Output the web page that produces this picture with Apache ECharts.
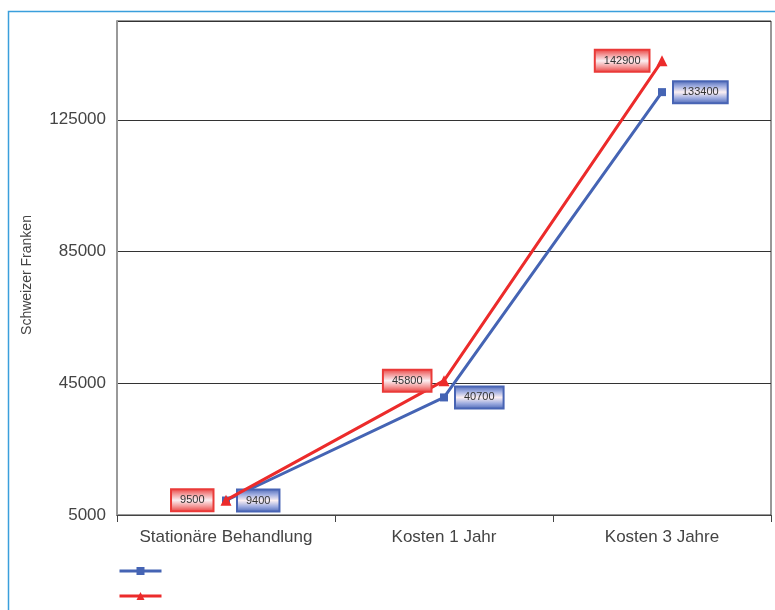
<!DOCTYPE html>
<html>
<head>
<meta charset="utf-8">
<script src="https://cdn.jsdelivr.net/npm/echarts@6/dist/echarts.min.js"></script>
<style>
  html, body { margin: 0; padding: 0; background: #fff; }
  #main { width: 775px; height: 610px; }
</style>
</head>
<body>
<div id="main"></div>
<script>
// Kategorien und Werte
var categories = ['Stationäre Behandlung', 'Kosten 1 Jahr', 'Kosten 3 Jahre'];
var blueValues = [9400, 40700, 133400];
var redValues = [9500, 45800, 142900];
var yTicks = [5000, 45000, 85000, 125000];

var chart = echarts.init(document.getElementById('main'));

// Hintergrund der Wertelabels: heller Kern, kräftiger Rand
function labelBox(kind) {
  var edge = kind === 'red' ? '#ea3a38' : '#4864b4';
  var mid = kind === 'red' ? '#f39a9a' : '#9eace0';
  return new echarts.graphic.LinearGradient(0, 0, 0, 1, [
    { offset: 0, color: edge },
    { offset: 0.25, color: mid },
    { offset: 0.5, color: '#fbeff2' },
    { offset: 0.75, color: mid },
    { offset: 1, color: edge }
  ]);
}

chart.setOption({
  animation: false,
  textStyle: { fontFamily: 'Liberation Sans, Arial, sans-serif' },
  graphic: [{
    type: 'rect',
    left: 6, top: 9,
    shape: { width: 820, height: 700 },
    style: { fill: 'none', stroke: '#3a9fdc', lineWidth: 1.5 },
    silent: true
  }],
  grid: {
    left: 117, right: 4, top: 21, bottom: 95,
    show: true, borderColor: '#333', borderWidth: 1
  },
  legend: {
    orient: 'vertical',
    left: 113, top: 561,
    itemWidth: 42, itemHeight: 10,
    itemGap: 16,
    lineStyle: { width: 3 },
    formatter: function () { return ''; },
    data: ['Blau', 'Rot']
  },
  xAxis: {
    type: 'category',
    data: categories,
    boundaryGap: true,
    axisLine: { lineStyle: { color: '#444', width: 1 } },
    axisTick: { show: true, interval: 0, length: 7, lineStyle: { color: '#444' } },
    axisLabel: { color: '#444', fontSize: 17, margin: 14, interval: 0 },
    splitLine: { show: false }
  },
  yAxis: {
    type: 'value',
    min: 5000, max: 155000, interval: 40000,
    name: 'Schweizer Franken',
    nameLocation: 'middle',
    nameGap: 83,
    nameTextStyle: { color: '#444', fontSize: 14, padding: [0, 14, 0, 0] },
    axisLine: { show: true, lineStyle: { color: '#999', width: 2 } },
    axisTick: { show: false },
    axisLabel: {
      color: '#444', fontSize: 17, margin: 11,
      formatter: function (v) { return yTicks.indexOf(v) >= 0 ? String(v) : ''; }
    },
    splitLine: { show: true, lineStyle: { color: '#333', width: 1 } }
  },
  series: [
    {
      name: 'Blau',
      type: 'line',
      data: blueValues,
      symbol: 'rect',
      symbolSize: 8,
      itemStyle: { color: '#4564b4' },
      lineStyle: { color: '#4564b4', width: 3 },
      label: {
        show: true, position: 'right', distance: 8,
        color: '#333', fontSize: 11,
        backgroundColor: labelBox('blue'),
        borderColor: '#4864b4', borderWidth: 2,
        padding: [5, 8, 4, 8]
      },
      z: 2
    },
    {
      name: 'Rot',
      type: 'line',
      data: redValues,
      symbol: 'triangle',
      symbolSize: 11,
      itemStyle: { color: '#ec2b2b' },
      lineStyle: { color: '#ec2b2b', width: 3 },
      label: {
        show: true, position: 'left', distance: 8,
        color: '#333', fontSize: 11,
        backgroundColor: labelBox('red'),
        borderColor: '#ea3a38', borderWidth: 2,
        padding: [5, 8, 4, 8]
      },
      z: 3
    }
  ]
});
</script>
</body>
</html>
